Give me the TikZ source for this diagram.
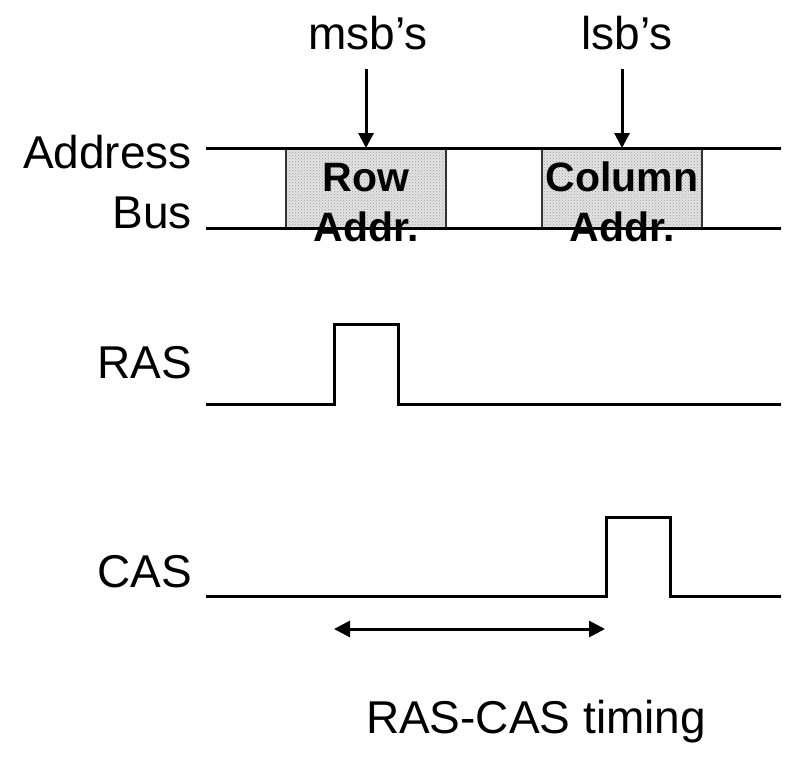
\documentclass[tikz,border=0pt]{standalone}
\usepackage{fontspec}
\setmainfont{Liberation Sans}
\usetikzlibrary{arrows.meta,patterns}
\begin{document}
\begin{tikzpicture}[x=1pt,y=-1pt,
  lbl/.style={inner sep=0pt,font=\fontsize{46}{50}\selectfont},
  boxlbl/.style={inner sep=0pt,font=\fontsize{41}{48}\selectfont\bfseries},
  addrbox/.style={draw=black!80,line width=1.3pt,inner sep=0pt,outer sep=0pt,
    minimum width=160pt,minimum height=80pt,
    preaction={fill=gray!22},pattern=crosshatch dots,pattern color=gray!75},
  sig/.style={line width=3pt,miter limit=10},
  tip/.style={-{Triangle[width=15pt,length=15pt]},line width=3pt},
  dtip/.style={{Triangle[width=16pt,length=16pt]}-{Triangle[width=16pt,length=16pt]},line width=3pt}]
\useasboundingbox (0,0) rectangle (786,757);

% labels
\node[lbl,anchor=base] (msb) at (368,50) {msb’s};
\node[lbl,anchor=base] (lsb) at (627,50) {lsb’s};
\node[lbl,anchor=base east] (addr) at (192,168) {Address};
\node[lbl,anchor=base east] (bus) at (192,228) {Bus};
\node[lbl,anchor=base east] (ras) at (192,378) {RAS};
\node[lbl,anchor=base east] (cas) at (192,587) {CAS};
\node[lbl,anchor=base] (timing) at (536,733) {RAS-CAS timing};

% address boxes
\node[addrbox] (rowbox) at (366,188) {};
\node[addrbox] (colbox) at (622,188) {};

% bus lines
\coordinate (busTL) at (206,148);
\coordinate (busTR) at (781,148);
\coordinate (busBL) at (206,228);
\coordinate (busBR) at (781,228);
\draw[sig] (busTL) -- (busTR);
\draw[sig] (busBL) -- (busBR);

% box texts
\node[boxlbl,anchor=base] (row1) at (366,191) {Row};
\node[boxlbl,anchor=base] (row2) at (366,241) {Addr.};
\node[boxlbl,anchor=base] (col1) at (622,191) {Column};
\node[boxlbl,anchor=base] (col2) at (622,241) {Addr.};

% pointer arrows
\coordinate (msbArr) at (366,69);
\coordinate (lsbArr) at (622,69);
\draw[tip] (msbArr) -- (rowbox.north);
\draw[tip] (lsbArr) -- (colbox.north);

% RAS
\coordinate (rasA) at (206,404);
\coordinate (rasB) at (334,404);
\coordinate (rasC) at (334,324);
\coordinate (rasD) at (398,324);
\coordinate (rasE) at (398,404);
\coordinate (rasF) at (781,404);
\draw[sig] (rasA) -- (rasB) -- (rasC) -- (rasD) -- (rasE) -- (rasF);

% CAS
\coordinate (casA) at (206,596);
\coordinate (casB) at (606,596);
\coordinate (casC) at (606,517);
\coordinate (casD) at (670,517);
\coordinate (casE) at (670,596);
\coordinate (casF) at (781,596);
\draw[sig] (casA) -- (casB) -- (casC) -- (casD) -- (casE) -- (casF);

% timing arrow
\coordinate (tL) at (334,629);
\coordinate (tR) at (605,629);
\draw[dtip] (tL) -- (tR);
\end{tikzpicture}
\end{document}
